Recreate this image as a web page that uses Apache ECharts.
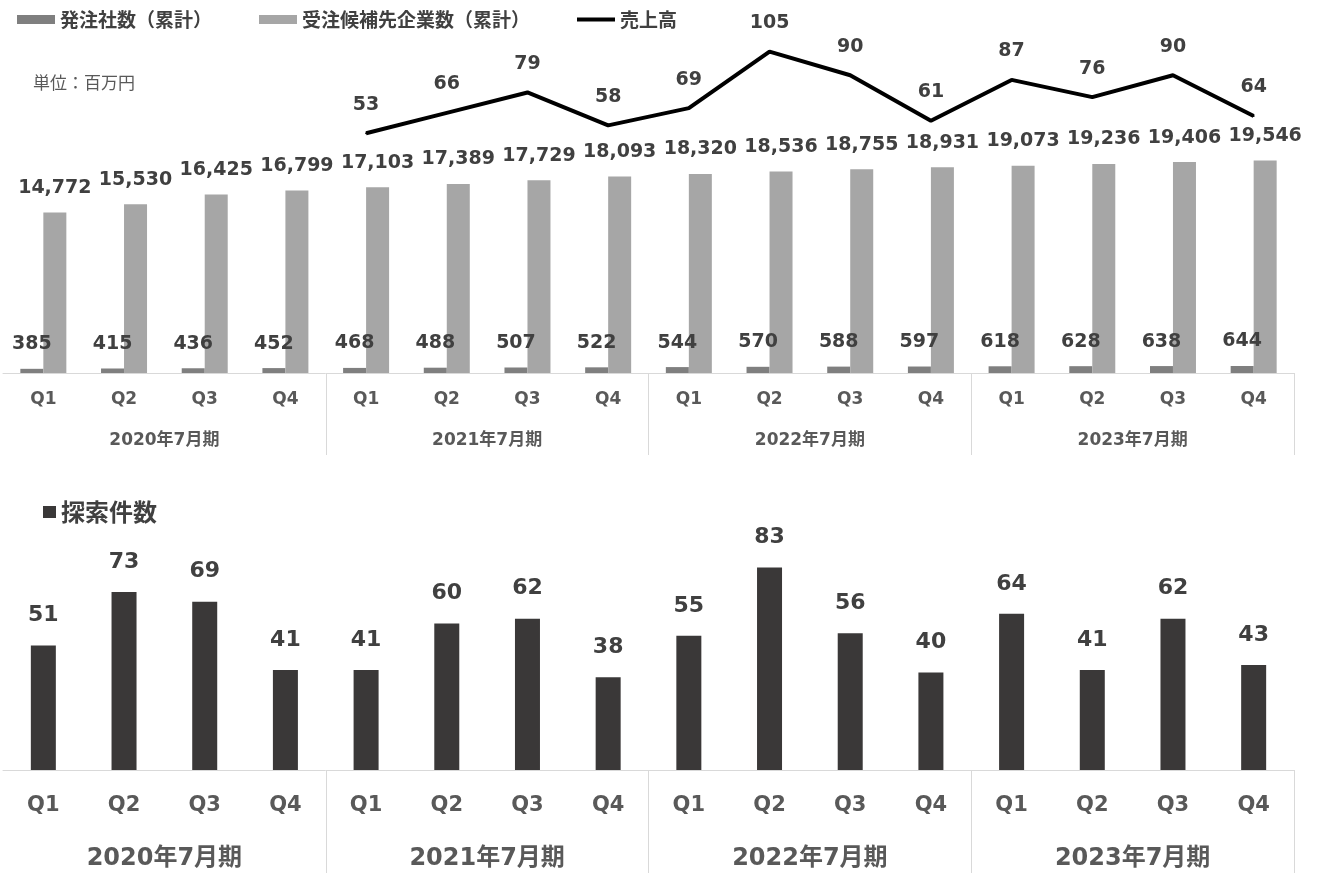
<!DOCTYPE html>
<html>
<head>
<meta charset="utf-8">
<script src="https://cdn.jsdelivr.net/npm/echarts@6/dist/echarts.min.js"></script>
<style>
html,body{margin:0;padding:0;background:#fff;}
#chart{width:1317px;height:873px;}
</style>
</head>
<body>
<div id="chart"></div>
<script>
const quarters = ['Q1','Q2','Q3','Q4','Q1','Q2','Q3','Q4','Q1','Q2','Q3','Q4','Q1','Q2','Q3','Q4'];
const fiscalYears = ['2020年7月期','2021年7月期','2022年7月期','2023年7月期'];
const clientCount = [385,415,436,452,468,488,507,522,544,570,588,597,618,628,638,644];
const candidateCount = [14772,15530,16425,16799,17103,17389,17729,18093,18320,18536,18755,18931,19073,19236,19406,19546];
const sales = [null,null,null,null,53,66,79,58,69,105,90,61,87,76,90,64];
const searchCount = [51,73,69,41,41,60,62,38,55,83,56,40,64,41,62,43];

const NUM_FONT = "'DejaVu Sans', 'Noto Sans CJK JP', sans-serif";
const JP_FONT = "'Noto Sans CJK JP', 'DejaVu Sans', sans-serif";
const labelColor = '#404040';
const axisColor = '#595959';
const lineGray = '#d9d9d9';

const chart = echarts.init(document.getElementById('chart'), null, {renderer: 'canvas'});

function qAxis(gridIndex, fontSize, margin) {
  return {
    type: 'category', gridIndex: gridIndex, data: quarters, position: 'bottom',
    axisLine: {show: true, onZero: false, lineStyle: {color: lineGray, width: 1}},
    axisTick: {show: false},
    axisLabel: {interval: 0, color: axisColor, fontFamily: NUM_FONT, fontWeight: 'bold', fontSize: fontSize, margin: margin}
  };
}
function yearAxis(gridIndex, fontSize, margin, tickLen) {
  return {
    type: 'category', gridIndex: gridIndex, data: fiscalYears, position: 'bottom',
    axisLine: {show: false, onZero: false},
    axisTick: {show: true, length: tickLen, interval: function (idx) { return idx > 0; }, lineStyle: {color: lineGray, width: 1}},
    axisLabel: {interval: 0, color: axisColor, fontFamily: NUM_FONT, fontWeight: 'bold', fontSize: fontSize, margin: margin}
  };
}

const option = {
  backgroundColor: '#ffffff',
  animation: false,
  title: {
    text: '単位：百万円', left: 33, top: 74, padding: 0,
    textStyle: {fontFamily: JP_FONT, fontWeight: 'normal', fontSize: 17, color: axisColor}
  },
  legend: [
    {
      left: 17, top: 10, padding: 0, itemWidth: 38, itemHeight: 9, itemGap: 47,
      textStyle: {fontFamily: JP_FONT, fontWeight: 'bold', fontSize: 19, color: labelColor},
      data: [
        {name: '発注社数（累計）', icon: 'rect'},
        {name: '受注候補先企業数（累計）', icon: 'rect'},
        {name: '売上高', icon: 'path://M0,0H40V4H0Z', itemStyle: {color: '#000000', borderWidth: 0}}
      ]
    },
    {
      left: 43, top: 500, padding: 0, itemWidth: 13, itemHeight: 12,
      textStyle: {fontFamily: JP_FONT, fontWeight: 'bold', fontSize: 24, color: labelColor},
      data: [{name: '探索件数', icon: 'rect'}]
    }
  ],
  grid: [
    {left: 3, right: 23, top: 47, bottom: 500, outerBoundsMode: 'none'},
    {left: 3, right: 23, top: 526, bottom: 103, outerBoundsMode: 'none'}
  ],
  xAxis: [
    qAxis(0, 17, 18),
    yearAxis(0, 17, 59, 82),
    qAxis(1, 21, 25),
    yearAxis(1, 24, 77, 103)
  ],
  yAxis: [
    {type: 'value', gridIndex: 0, min: 0, max: 30000, show: false, splitLine: {show: false}},
    {type: 'value', gridIndex: 0, min: -100, max: 108, show: false, splitLine: {show: false}},
    {type: 'value', gridIndex: 1, min: 0, max: 100, show: false, splitLine: {show: false}}
  ],
  series: [
    {
      name: '発注社数（累計）', type: 'bar', xAxisIndex: 0, yAxisIndex: 0,
      data: clientCount, barWidth: 23, barGap: '0%',
      itemStyle: {color: '#7f7f7f'},
      label: {show: true, position: 'top', distance: 15, color: labelColor, fontFamily: NUM_FONT, fontWeight: 'bold', fontSize: 19}
    },
    {
      name: '受注候補先企業数（累計）', type: 'bar', xAxisIndex: 0, yAxisIndex: 0,
      data: candidateCount, barWidth: 23, barGap: '0%',
      itemStyle: {color: '#a6a6a6'},
      label: {show: true, position: 'top', distance: 15, color: labelColor, fontFamily: NUM_FONT, fontWeight: 'bold', fontSize: 19,
        formatter: function (p) { return p.value.toLocaleString('en-US'); }}
    },
    {
      name: '売上高', type: 'line', xAxisIndex: 0, yAxisIndex: 1,
      data: sales, symbol: 'circle', symbolSize: 2, showSymbol: true, z: 5,
      itemStyle: {color: '#000000'},
      lineStyle: {color: '#000000', width: 4},
      label: {show: true, position: 'top', distance: 18, color: labelColor, fontFamily: NUM_FONT, fontWeight: 'bold', fontSize: 19}
    },
    {
      name: '探索件数', type: 'bar', xAxisIndex: 2, yAxisIndex: 2,
      data: searchCount, barWidth: 25,
      itemStyle: {color: '#3a3838'},
      label: {show: true, position: 'top', distance: 19, color: labelColor, fontFamily: NUM_FONT, fontWeight: 'bold', fontSize: 22}
    }
  ]
};
chart.setOption(option);
</script>
</body>
</html>
